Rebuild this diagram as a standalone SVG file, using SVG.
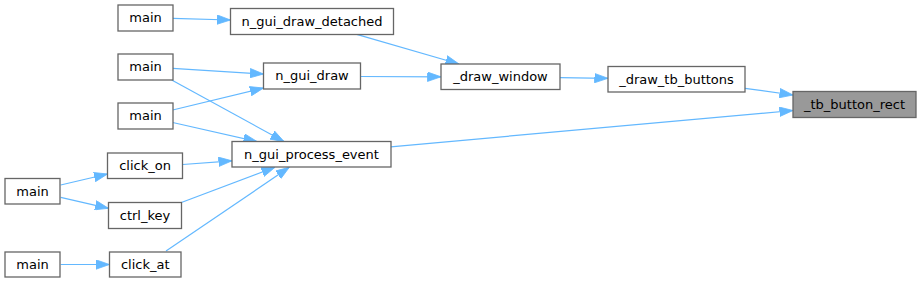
<svg xmlns="http://www.w3.org/2000/svg" width="921" height="283" viewBox="0 0 921 283">
<style>
.node rect{fill:#ffffff;stroke:#666666;stroke-width:1.3}
.node.hl rect{fill:#999999}
.node text{font-family:"DejaVu Sans",sans-serif;font-size:13px;fill:#000000;text-anchor:middle}
.edges line{stroke:#63b8ff;stroke-width:1.2;fill:none;marker-end:url(#arr)}
</style>
<defs>
<marker id="arr" markerUnits="userSpaceOnUse" markerWidth="14" markerHeight="10" refX="13.5" refY="5" orient="auto">
<path d="M0,0.3 L13.5,5 L0,9.7 z" fill="#63b8ff" stroke="#63b8ff" stroke-width="0.8"/>
</marker>
</defs>
<rect width="921" height="283" fill="#ffffff"/>
<g class="edges">
<line x1="172.7" y1="18.3" x2="230.5" y2="20"/>
<line x1="172.7" y1="68.3" x2="263.5" y2="74"/>
<line x1="171.7" y1="80" x2="284" y2="141.5"/>
<line x1="172.7" y1="110" x2="263.5" y2="88"/>
<line x1="172.7" y1="122.5" x2="257" y2="141.5"/>
<line x1="356.7" y1="34.3" x2="459" y2="64"/>
<line x1="360" y1="76.5" x2="441" y2="76.8"/>
<line x1="560" y1="77.6" x2="608" y2="78.3"/>
<line x1="745" y1="88.3" x2="793" y2="95"/>
<line x1="390.7" y1="146.8" x2="793" y2="110.5"/>
<line x1="182.7" y1="164.5" x2="232" y2="160.8"/>
<line x1="180.7" y1="202.7" x2="275" y2="167.3"/>
<line x1="166" y1="251" x2="289.3" y2="167.3"/>
<line x1="60.7" y1="185" x2="107.5" y2="174"/>
<line x1="60.7" y1="197.3" x2="108.5" y2="208.3"/>
<line x1="60.7" y1="264.5" x2="109.5" y2="264.5"/>
</g>
<g id="node_main1" class="node"><rect x="118" y="5" width="55" height="26"/><text x="145.5" y="22.3">main</text></g>
<g id="node_n_gui_draw_detached" class="node"><rect x="230.5" y="8.5" width="163" height="26"/><text x="312" y="25.8">n_gui_draw_detached</text></g>
<g id="node_main2" class="node"><rect x="118" y="54" width="55" height="26"/><text x="145.5" y="71.3">main</text></g>
<g id="node_n_gui_draw" class="node"><rect x="263.5" y="63" width="97" height="26"/><text x="312" y="80.3">n_gui_draw</text></g>
<g id="node_main3" class="node"><rect x="118" y="103" width="55" height="26"/><text x="145.5" y="120.3">main</text></g>
<g id="node_draw_window" class="node"><rect x="441" y="64" width="119" height="25.5"/><text x="500.5" y="81.2">_draw_window</text></g>
<g id="node_draw_tb_buttons" class="node"><rect x="608" y="66.5" width="137" height="25.5"/><text x="676.5" y="83.7">_draw_tb_buttons</text></g>
<g id="node_tb_button_rect" class="node hl"><rect x="793" y="91.5" width="123" height="26"/><text x="854.5" y="108.8">_tb_button_rect</text></g>
<g id="node_n_gui_process_event" class="node"><rect x="232" y="141.5" width="159" height="25.5"/><text x="311.5" y="158.7">n_gui_process_event</text></g>
<g id="node_click_on" class="node"><rect x="107.5" y="153" width="75" height="25.5"/><text x="145" y="170.2">click_on</text></g>
<g id="node_main4" class="node"><rect x="5" y="178.5" width="55" height="25.5"/><text x="32.5" y="195.7">main</text></g>
<g id="node_ctrl_key" class="node"><rect x="108.5" y="202.5" width="73" height="26"/><text x="145" y="219.8">ctrl_key</text></g>
<g id="node_main5" class="node"><rect x="5" y="252" width="55" height="25"/><text x="32.5" y="269">main</text></g>
<g id="node_click_at" class="node"><rect x="109.5" y="252" width="71.5" height="25"/><text x="145.2" y="269">click_at</text></g>
</svg>
